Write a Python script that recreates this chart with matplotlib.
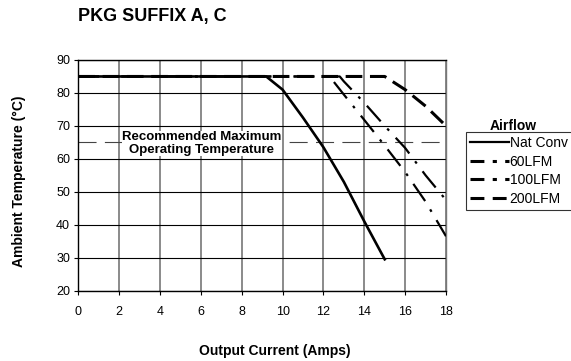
import matplotlib
matplotlib.use("Agg")
import matplotlib.pyplot as plt
from matplotlib.lines import Line2D

plt.rcParams['lines.scale_dashes'] = False

title = "PKG SUFFIX A, C"
xlabel = "Output Current (Amps)"
ylabel = "Ambient Temperature (°C)"
ref_text = "Recommended Maximum\nOperating Temperature"
ref_temp = 65
legend_title = "Airflow"

series_names = ["Nat Conv", "60LFM", "100LFM", "200LFM"]
nat_x = [0, 9.2, 10, 11, 12, 13, 14, 15]
nat_y = [85, 85, 81, 72.5, 63.5, 53, 41, 29.5]
lfm60_x = [0, 12.3, 13, 14, 15, 16, 17, 18]
lfm60_y = [85, 85, 79.5, 71.8, 64, 56, 47, 36.5]
lfm100_x = [0, 12.8, 13, 14, 15, 16, 17, 18]
lfm100_y = [85, 85, 83.5, 77, 70, 63.3, 55, 47.5]
lfm200_x = [0, 15, 16, 17, 18]
lfm200_y = [85, 85, 81, 76, 70]

xticks = list(range(0, 19, 2))
yticks = list(range(20, 91, 10))

bold = ['Liberation Sans', 'DejaVu Sans']
sans = ['Liberation Sans', 'DejaVu Sans']

W, H = 571, 361
fig = plt.figure(figsize=(W/100, H/100), dpi=100)
x0, x1, yt, yb = 78.3, 446, 60, 290.6
ax = fig.add_axes([x0/W, 1-yb/H, (x1-x0)/W, (yb-yt)/H])

ax.set_xlim(0, 18)
ax.set_ylim(20, 90)
ax.set_xticks(xticks)
ax.set_yticks(yticks)
ax.tick_params(direction='out', length=3, width=0.8, labelsize=9)
ax.tick_params(axis='x', pad=8)
ax.tick_params(axis='y', pad=3)
for lab in ax.get_xticklabels() + ax.get_yticklabels():
    lab.set_family(sans)

for x in xticks:
    ax.axvline(x, color='#777777', lw=1.2, zorder=1)
for y in yticks:
    ax.axhline(y, color='black', lw=0.8, zorder=1)
for s in ax.spines.values():
    s.set_linewidth(1.0)
ax.spines['right'].set_color('#777777')

ax.axhline(ref_temp, color='#444444', lw=0.8, linestyle=(0, (13, 6)), zorder=2)
ax.text(6.05, 64.7, ref_text, ha='center', va='center', fontsize=9.5,
        fontweight='bold', family=bold, linespacing=1.05,
        bbox=dict(facecolor='white', edgecolor='none', pad=0.3), zorder=3)

ax.plot(lfm200_x, lfm200_y, color='black', lw=2.2, linestyle=(0, (12, 5.5)), zorder=4)
ax.plot(lfm100_x, lfm100_y, color='black', lw=1.6, linestyle=(0, (15, 7, 2, 7)), zorder=4)
ax.plot(lfm60_x, lfm60_y, color='black', lw=1.6, linestyle=(0, (15, 7, 2, 7)), zorder=4)
ax.plot(nat_x, nat_y, color='black', lw=1.9, zorder=5)

handles = [Line2D([], [], color='black', lw=1.6),
           Line2D([], [], color='black', lw=2.2, linestyle=(0, (10, 6, 3, 6))),
           Line2D([], [], color='black', lw=2.2, linestyle=(0, (10, 6, 3, 6))),
           Line2D([], [], color='black', lw=2.2, linestyle=(0, (10, 6)))]
leg = ax.legend(handles, series_names, loc='upper left',
                bbox_to_anchor=((466-x0)/(x1-x0), (yb-132)/(yb-yt)),
                frameon=True, fancybox=False, edgecolor='black',
                prop={'family': sans, 'size': 10}, handlelength=2.8,
                handletextpad=0.05, borderpad=0.3, labelspacing=0.33,
                borderaxespad=0)
leg.get_frame().set_linewidth(0.8)

fig.text(513/W, 1-126.5/H, legend_title, ha='center', va='center',
         fontsize=10, fontweight='bold', family=bold)
fig.text(78/W, 1-17/H, title, ha='left', va='center',
         fontsize=13, fontweight='bold', family=bold)
fig.text(275/W, 1-351/H, xlabel, ha='center', va='center',
         fontsize=10, fontweight='bold', family=bold)
fig.text(19/W, 1-181/H, ylabel, ha='center', va='center', rotation=90,
         fontsize=10, fontweight='bold', family=bold)

fig.savefig("out.png", dpi=100)
